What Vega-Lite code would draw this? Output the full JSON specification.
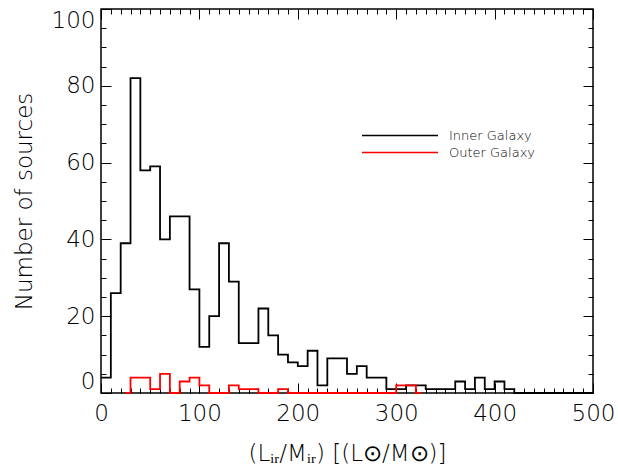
{
  "$schema": "https://vega.github.io/schema/vega-lite/v6.json",
  "width": 492,
  "height": 384,
  "autosize": "none",
  "padding": {"left": 101, "top": 9, "right": 25, "bottom": 77},
  "background": "white",
  "config": {
    "view": {"stroke": "#000000", "strokeWidth": 1.5},
    "font": "DejaVu Sans"
  },
  "data": {
    "values": [
      {"galaxy": "Inner Galaxy", "x": 0, "n": 4},
      {"galaxy": "Inner Galaxy", "x": 10, "n": 26},
      {"galaxy": "Inner Galaxy", "x": 20, "n": 39},
      {"galaxy": "Inner Galaxy", "x": 30, "n": 82},
      {"galaxy": "Inner Galaxy", "x": 40, "n": 58},
      {"galaxy": "Inner Galaxy", "x": 50, "n": 59},
      {"galaxy": "Inner Galaxy", "x": 60, "n": 40},
      {"galaxy": "Inner Galaxy", "x": 70, "n": 46},
      {"galaxy": "Inner Galaxy", "x": 80, "n": 46},
      {"galaxy": "Inner Galaxy", "x": 90, "n": 27},
      {"galaxy": "Inner Galaxy", "x": 100, "n": 12},
      {"galaxy": "Inner Galaxy", "x": 110, "n": 20},
      {"galaxy": "Inner Galaxy", "x": 120, "n": 39},
      {"galaxy": "Inner Galaxy", "x": 130, "n": 29},
      {"galaxy": "Inner Galaxy", "x": 140, "n": 13},
      {"galaxy": "Inner Galaxy", "x": 150, "n": 13},
      {"galaxy": "Inner Galaxy", "x": 160, "n": 22},
      {"galaxy": "Inner Galaxy", "x": 170, "n": 15},
      {"galaxy": "Inner Galaxy", "x": 180, "n": 10},
      {"galaxy": "Inner Galaxy", "x": 190, "n": 8},
      {"galaxy": "Inner Galaxy", "x": 200, "n": 7},
      {"galaxy": "Inner Galaxy", "x": 210, "n": 11},
      {"galaxy": "Inner Galaxy", "x": 220, "n": 2},
      {"galaxy": "Inner Galaxy", "x": 230, "n": 9},
      {"galaxy": "Inner Galaxy", "x": 240, "n": 9},
      {"galaxy": "Inner Galaxy", "x": 250, "n": 5},
      {"galaxy": "Inner Galaxy", "x": 260, "n": 7},
      {"galaxy": "Inner Galaxy", "x": 270, "n": 4},
      {"galaxy": "Inner Galaxy", "x": 280, "n": 4},
      {"galaxy": "Inner Galaxy", "x": 290, "n": 1},
      {"galaxy": "Inner Galaxy", "x": 300, "n": 1},
      {"galaxy": "Inner Galaxy", "x": 310, "n": 2},
      {"galaxy": "Inner Galaxy", "x": 320, "n": 2},
      {"galaxy": "Inner Galaxy", "x": 330, "n": 1},
      {"galaxy": "Inner Galaxy", "x": 340, "n": 1},
      {"galaxy": "Inner Galaxy", "x": 350, "n": 1},
      {"galaxy": "Inner Galaxy", "x": 360, "n": 3},
      {"galaxy": "Inner Galaxy", "x": 370, "n": 1},
      {"galaxy": "Inner Galaxy", "x": 380, "n": 4},
      {"galaxy": "Inner Galaxy", "x": 390, "n": 1},
      {"galaxy": "Inner Galaxy", "x": 400, "n": 3},
      {"galaxy": "Inner Galaxy", "x": 410, "n": 1},
      {"galaxy": "Inner Galaxy", "x": 420, "n": 0},
      {"galaxy": "Inner Galaxy", "x": 500, "n": 0},
      {"galaxy": "Outer Galaxy", "x": 25, "n": 0},
      {"galaxy": "Outer Galaxy", "x": 30, "n": 4},
      {"galaxy": "Outer Galaxy", "x": 40, "n": 4},
      {"galaxy": "Outer Galaxy", "x": 50, "n": 1},
      {"galaxy": "Outer Galaxy", "x": 60, "n": 5},
      {"galaxy": "Outer Galaxy", "x": 70, "n": 0},
      {"galaxy": "Outer Galaxy", "x": 80, "n": 3},
      {"galaxy": "Outer Galaxy", "x": 90, "n": 4},
      {"galaxy": "Outer Galaxy", "x": 100, "n": 2},
      {"galaxy": "Outer Galaxy", "x": 110, "n": 0},
      {"galaxy": "Outer Galaxy", "x": 120, "n": 0},
      {"galaxy": "Outer Galaxy", "x": 130, "n": 2},
      {"galaxy": "Outer Galaxy", "x": 140, "n": 1},
      {"galaxy": "Outer Galaxy", "x": 150, "n": 1},
      {"galaxy": "Outer Galaxy", "x": 160, "n": 0},
      {"galaxy": "Outer Galaxy", "x": 170, "n": 0},
      {"galaxy": "Outer Galaxy", "x": 180, "n": 1},
      {"galaxy": "Outer Galaxy", "x": 190, "n": 0},
      {"galaxy": "Outer Galaxy", "x": 200, "n": 0},
      {"galaxy": "Outer Galaxy", "x": 210, "n": 0},
      {"galaxy": "Outer Galaxy", "x": 220, "n": 0},
      {"galaxy": "Outer Galaxy", "x": 230, "n": 0},
      {"galaxy": "Outer Galaxy", "x": 240, "n": 0},
      {"galaxy": "Outer Galaxy", "x": 250, "n": 0},
      {"galaxy": "Outer Galaxy", "x": 260, "n": 0},
      {"galaxy": "Outer Galaxy", "x": 270, "n": 0},
      {"galaxy": "Outer Galaxy", "x": 280, "n": 0},
      {"galaxy": "Outer Galaxy", "x": 290, "n": 0},
      {"galaxy": "Outer Galaxy", "x": 300, "n": 2},
      {"galaxy": "Outer Galaxy", "x": 310, "n": 2},
      {"galaxy": "Outer Galaxy", "x": 320, "n": 0},
      {"galaxy": "Outer Galaxy", "x": 325, "n": 0}
    ]
  },
  "resolve": {"axis": {"x": "independent", "y": "independent"}},
  "layer": [
    {
      "mark": {"type": "line", "interpolate": "step-after", "strokeWidth": 1.8},
      "encoding": {
        "x": {
          "field": "x", "type": "quantitative",
          "scale": {"domain": [0, 500], "nice": false, "zero": false},
          "axis": {
            "orient": "bottom", "values": [0, 100, 200, 300, 400, 500],
            "tickSize": -10, "tickColor": "#000000", "tickWidth": 1,
            "domain": false, "grid": false,
            "labelFont": "DejaVu Sans", "labelFontWeight": 200, "labelFontSize": 23, "labelColor": "#000000",
            "labelPadding": 19, "labelFlush": false, "labelOverlap": false,
            "title": "(Lᵢᵣ/Mᵢᵣ)  [(L⊙/M⊙)]",
            "titleFont": "DejaVu Sans", "titleFontWeight": 200, "titleFontSize": 23, "titleColor": "#000000",
            "titlePadding": 17
          }
        },
        "y": {
          "field": "n", "type": "quantitative",
          "scale": {"domain": [0, 100], "nice": false},
          "axis": {
            "orient": "left", "values": [0, 20, 40, 60, 80, 100],
            "tickSize": -10, "tickColor": "#000000", "tickWidth": 1,
            "domain": false, "grid": false,
            "labelFont": "DejaVu Sans", "labelFontWeight": 200, "labelFontSize": 23, "labelColor": "#000000",
            "labelPadding": 16, "labelFlush": true, "labelOverlap": false,
            "title": "Number of sources",
            "titleFont": "DejaVu Sans", "titleFontWeight": 200, "titleFontSize": 23, "titleColor": "#000000",
            "titlePadding": 15
          }
        },
        "color": {
          "field": "galaxy", "type": "nominal",
          "scale": {"domain": ["Inner Galaxy", "Outer Galaxy"], "range": ["#000000", "#ff0000"]},
          "legend": {
            "title": null, "orient": "none", "legendX": 260, "legendY": 118,
            "symbolType": "stroke", "symbolSize": 5776, "symbolStrokeWidth": 1.5,
            "clipHeight": 17, "rowPadding": 0, "padding": 0,
            "labelFont": "DejaVu Sans", "labelFontWeight": 200, "labelFontSize": 13, "labelColor": "#000000",
            "labelOffset": 10
          }
        }
      }
    },
    {
      "mark": {"type": "point", "opacity": 0},
      "encoding": {
        "x": {"field": "x", "type": "quantitative",
          "axis": {"orient": "top", "values": [0, 100, 200, 300, 400, 500], "tickSize": -10, "tickColor": "#000000", "tickWidth": 1, "domain": false, "grid": false, "labels": false, "title": null}},
        "y": {"field": "n", "type": "quantitative",
          "axis": {"orient": "right", "values": [0, 20, 40, 60, 80, 100], "tickSize": -10, "tickColor": "#000000", "tickWidth": 1, "domain": false, "grid": false, "labels": false, "title": null}}
      }
    },
    {
      "mark": {"type": "point", "opacity": 0},
      "encoding": {
        "x": {"field": "x", "type": "quantitative",
          "axis": {"orient": "bottom", "values": [10,20,30,40,50,60,70,80,90,110,120,130,140,150,160,170,180,190,210,220,230,240,250,260,270,280,290,310,320,330,340,350,360,370,380,390,410,420,430,440,450,460,470,480,490], "tickSize": -5, "tickColor": "#000000", "tickWidth": 1, "domain": false, "grid": false, "labels": false, "title": null}},
        "y": {"field": "n", "type": "quantitative",
          "axis": {"orient": "left", "values": [5,10,15,25,30,35,45,50,55,65,70,75,85,90,95], "tickSize": -5, "tickColor": "#000000", "tickWidth": 1, "domain": false, "grid": false, "labels": false, "title": null}}
      }
    },
    {
      "mark": {"type": "point", "opacity": 0},
      "encoding": {
        "x": {"field": "x", "type": "quantitative",
          "axis": {"orient": "top", "values": [10,20,30,40,50,60,70,80,90,110,120,130,140,150,160,170,180,190,210,220,230,240,250,260,270,280,290,310,320,330,340,350,360,370,380,390,410,420,430,440,450,460,470,480,490], "tickSize": -5, "tickColor": "#000000", "tickWidth": 1, "domain": false, "grid": false, "labels": false, "title": null}},
        "y": {"field": "n", "type": "quantitative",
          "axis": {"orient": "right", "values": [5,10,15,25,30,35,45,50,55,65,70,75,85,90,95], "tickSize": -5, "tickColor": "#000000", "tickWidth": 1, "domain": false, "grid": false, "labels": false, "title": null}}
      }
    }
  ]
}
